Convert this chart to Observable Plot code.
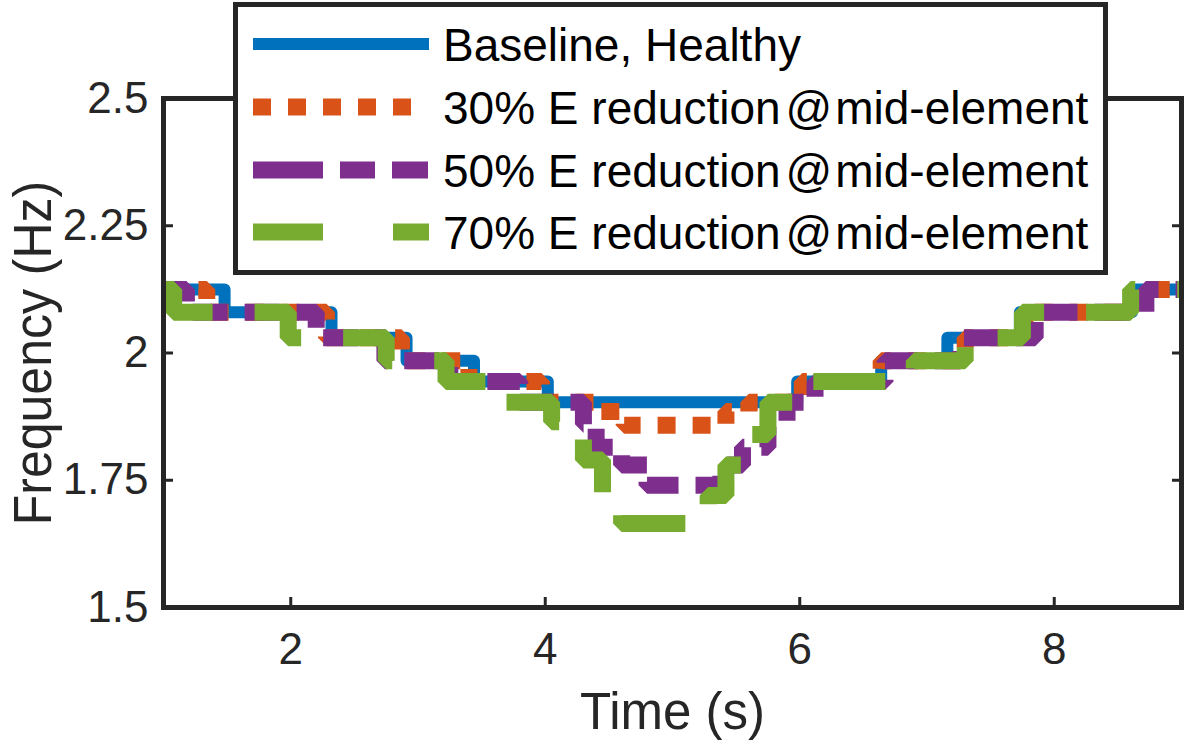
<!DOCTYPE html>
<html><head><meta charset="utf-8">
<script src="https://cdn.jsdelivr.net/npm/d3@7"></script>
<script src="https://cdn.jsdelivr.net/npm/@observablehq/plot@0.6"></script>
<style>
body{margin:0;background:#fff;}
#wrap{position:relative;width:1192px;height:740px;font-family:"Liberation Sans",Arial,sans-serif;}
#legend{position:absolute;left:233px;top:2px;width:865px;height:263px;border:5px solid #262626;background:#fff;}
</style></head><body><div id="wrap"></div>
<script>
const seriesNames = ["Baseline, Healthy","30% E reduction@mid-element","50% E reduction@mid-element","70% E reduction@mid-element"];
const seriesColors = ["#0072BD","#D95319","#7E2F8E","#77AC30"];
const xTicks = [2,4,6,8];
const yTicks = [1.5,1.75,2,2.25,2.5];
const yTickLabels = ["1.5","1.75","2","2.25","2.5"];

// step change times (s) and frequency levels (Hz)
const baselineT = [1, 1.48, 2.32, 2.91, 3.44, 4.02, 5.98, 6.64, 7.16, 7.73, 8.61, 9];
const baselineF = [2.125, 2.08, 2.03, 1.985, 1.944, 1.903, 1.944, 1.985, 2.03, 2.08, 2.125, 2.125];
const e30T = [1, 1.34, 2.28, 2.87, 3.4, 3.97, 4.42, 4.62, 5.42, 5.6, 6.02, 6.64, 7.3, 7.77, 8.65, 9];
const e30F = [2.125, 2.08, 2.03, 1.985, 1.944, 1.903, 1.885, 1.858, 1.885, 1.903, 1.944, 1.985, 2.03, 2.08, 2.125, 2.125];
const e50T = [1, 1.18, 2.2, 2.74, 3.25, 3.8, 4.3, 4.4, 4.6, 4.8, 5.38, 5.55, 5.75, 5.9, 6.12, 6.67, 7.26, 7.85, 8.72, 9];
const e50F = [2.125, 2.08, 2.03, 1.985, 1.944, 1.903, 1.86, 1.815, 1.78, 1.74, 1.78, 1.815, 1.855, 1.903, 1.944, 1.985, 2.03, 2.08, 2.125, 2.125];
const e70T = [1, 1.08, 1.98, 2.75, 3.22, 3.64, 4.05, 4.3, 4.45, 4.6, 5.28, 5.42, 5.58, 5.75, 5.98, 6.9, 7.3, 7.75, 8.6, 9];
const e70F = [2.125, 2.08, 2.03, 1.985, 1.944, 1.903, 1.865, 1.79, 1.72, 1.665, 1.72, 1.78, 1.84, 1.903, 1.944, 1.985, 2.03, 2.08, 2.125, 2.125];

const seriesT = [baselineT, e30T, e50T, e70T];
const seriesF = [baselineF, e30F, e50F, e70F];
const widths = [12, 17, 17, 17];
const dashes = [null, "18,17", "35,17", "72,42"];
const legendDashes = [null, "18,17,18,17,18,17,18,17,18,40", "70,17,35,17,36", "70,70,36"];

const rows = seriesT.map((T, i) => T.map((t, j) => ({t, f: seriesF[i][j]})));

const ink = "#262626";
const chart = Plot.plot({
  width: 1192, height: 740,
  marginLeft: 163, marginRight: 11, marginTop: 98, marginBottom: 133,
  style: {fontFamily: '"Liberation Sans", Arial, sans-serif', fontSize: "44px", color: ink, background: "#fff"},
  x: {domain: [1, 9], ticks: xTicks},
  y: {domain: [1.5, 2.5], ticks: yTicks},
  marks: [
    ...rows.map((r, i) => Plot.line(r, {x: "t", y: "f", curve: "step-after", stroke: seriesColors[i], strokeWidth: widths[i], strokeDasharray: dashes[i], strokeLinejoin: i === 0 ? "round" : "miter", strokeLinecap: "butt", clip: true})),
    Plot.axisX({anchor: "bottom", ticks: xTicks, tickSize: -10, tickPadding: 35, strokeWidth: 3, label: null, fontSize: 44, fill: ink}),
    Plot.axisX({anchor: "top", ticks: xTicks, tickSize: -10, strokeWidth: 3, label: null, tickFormat: () => ""}),
    Plot.axisY({anchor: "left", ticks: yTicks, tickSize: -10, tickPadding: 25, strokeWidth: 3, label: null, fontSize: 44, fill: ink,
      tickFormat: d => yTickLabels[yTicks.indexOf(d)]}),
    Plot.axisY({anchor: "right", ticks: yTicks, tickSize: -10, strokeWidth: 3, label: null, tickFormat: () => ""}),
    Plot.frame({stroke: ink, strokeWidth: 5}),
    Plot.text(["Time (s)"], {frameAnchor: "bottom", textAnchor: "middle", dy: 121, lineAnchor: "bottom", fontSize: 51, fill: ink}),
    Plot.text(["Frequency (Hz)"], {frameAnchor: "left", textAnchor: "middle", dx: -113, rotate: -90, lineAnchor: "bottom", fontSize: 50, fill: ink})
  ]
});
// MATLAB export renders the y label glyphs a little taller
d3.select(chart).selectAll("text").filter(function() { return this.textContent === "Frequency (Hz)"; })
  .each(function() { const tr = this.getAttribute("transform") || ""; this.setAttribute("transform", tr + " scale(1,1.08)"); });
const wrap = document.getElementById("wrap");
wrap.appendChild(chart);

// legend overlay
const leg = d3.select(wrap).append("div").attr("id", "legend");
const svg = leg.append("svg").attr("width", 865).attr("height", 263);
const rowY = [37, 100, 163, 225];
seriesNames.forEach((name, i) => {
  svg.append("line").attr("x1", 15).attr("x2", 191).attr("y1", rowY[i]).attr("y2", rowY[i])
    .attr("stroke", seriesColors[i]).attr("stroke-width", widths[i])
    .attr("stroke-dasharray", legendDashes[i]);
  const txt = svg.append("text").attr("x", 205).attr("y", rowY[i] + 17).attr("font-size", 46)
    .attr("font-family", '"Liberation Sans", Arial, sans-serif').attr("fill", "#000");
  const parts = name.split("@");
  txt.append("tspan").text(parts[0]);
  if (parts.length > 1) {
    txt.append("tspan").attr("dx", 5).text("@");
    txt.append("tspan").attr("dx", 3).text(parts[1]);
  }
});
</script></body></html>
